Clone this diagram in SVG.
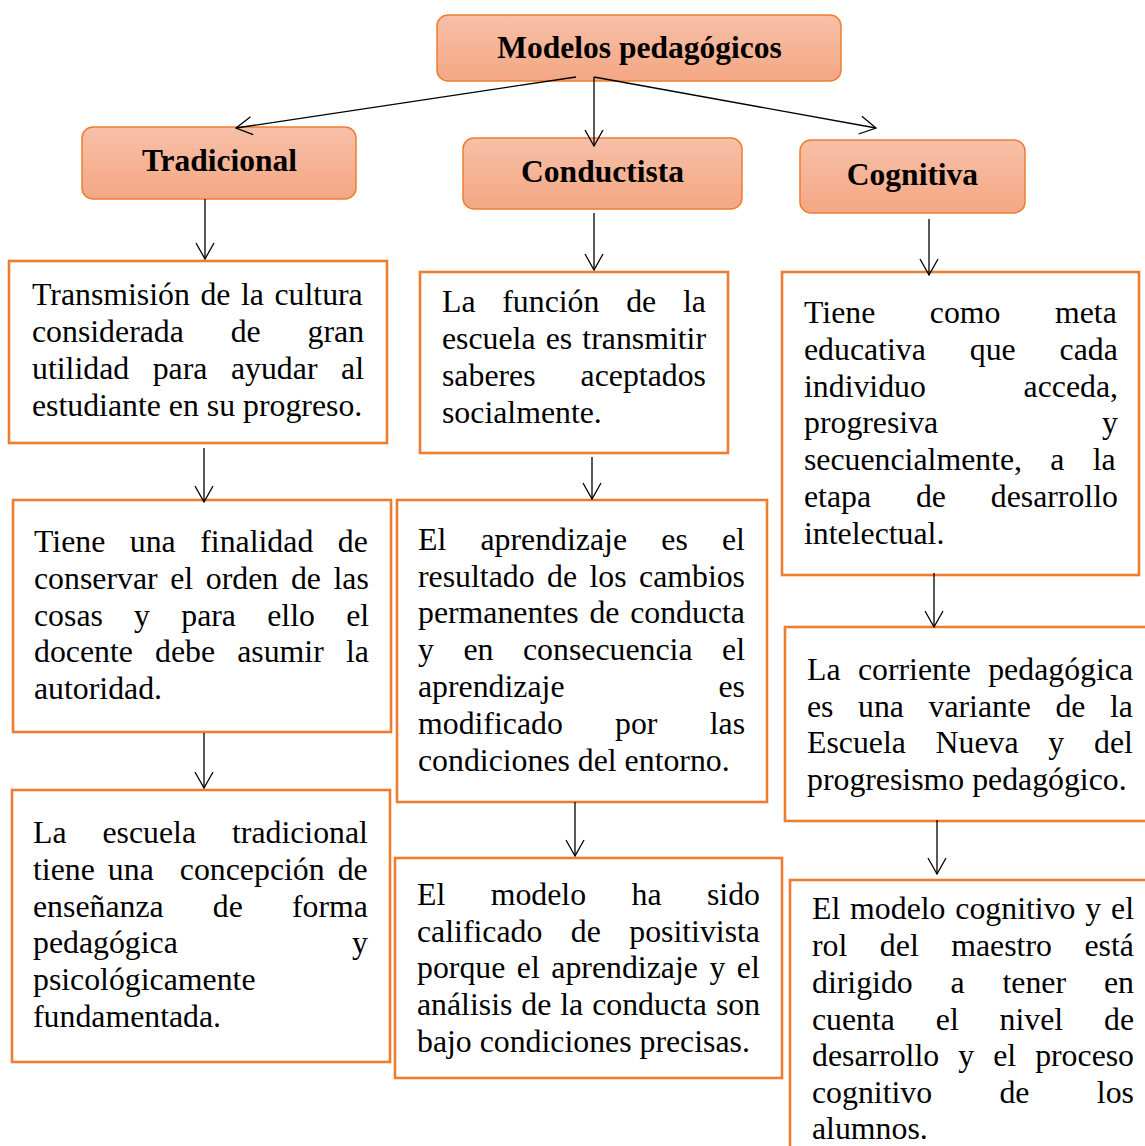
<svg xmlns="http://www.w3.org/2000/svg" width="1145" height="1146" viewBox="0 0 1145 1146">
<style>
.hdr{stroke:#ED7D31;stroke-width:1.5;fill:url(#hg)}
.box{fill:#fff;stroke:#ED7D31;stroke-width:2.6}
.ht{font-family:"Liberation Serif","Times New Roman",serif;font-weight:bold;font-size:31.5px;fill:#000;text-anchor:middle}
.t{font-family:"Liberation Serif","Times New Roman",serif;font-size:31.8px;fill:#000}
.c{stroke:#000;stroke-width:1.3;fill:none;marker-end:url(#ah)}
</style>
<defs>
<linearGradient id="hg" x1="0" y1="0" x2="0" y2="1">
<stop offset="0" stop-color="#F7C0A8"/>
<stop offset="1" stop-color="#F4A783"/>
</linearGradient>
<marker id="ah" viewBox="-17 -10 18 20" refX="0" refY="0" markerWidth="18" markerHeight="20" markerUnits="userSpaceOnUse" orient="auto">
<path d="M-16,-9 L0,0 L-16,9" fill="none" stroke="#000" stroke-width="1.3"/>
</marker>
</defs>
<rect width="1145" height="1146" fill="#fff"/>

<g id="modelos">
<rect class="hdr" x="437" y="15" width="404" height="66" rx="11"/>
<text class="ht" x="639.5" y="58">Modelos pedagógicos</text>
</g>
<g id="tradicional">
<rect class="hdr" x="82" y="127" width="274" height="72" rx="11"/>
<text class="ht" x="219.5" y="171">Tradicional</text>
</g>
<g id="conductista">
<rect class="hdr" x="463" y="138" width="279" height="71" rx="11"/>
<text class="ht" x="602.5" y="182">Conductista</text>
</g>
<g id="cognitiva">
<rect class="hdr" x="800" y="140" width="225" height="73" rx="11"/>
<text class="ht" x="912.5" y="185">Cognitiva</text>
</g>

<g id="t1">
<rect class="box" x="9" y="261" width="378" height="182"/>
<text class="t" x="32" y="305" word-spacing="2.6">Transmisión de la cultura</text>
<text class="t" x="32" y="342" word-spacing="38.9">considerada de gran</text>
<text class="t" x="32" y="379" word-spacing="15.6">utilidad para ayudar al</text>
<text class="t" x="32" y="416">estudiante en su progreso.</text>
</g>
<g id="t2">
<rect class="box" x="13" y="500" width="378" height="232"/>
<text class="t" x="34" y="552" word-spacing="16.6">Tiene una finalidad de</text>
<text class="t" x="34" y="589" word-spacing="4.7">conservar el orden de las</text>
<text class="t" x="34" y="626" word-spacing="23.3">cosas y para ello el</text>
<text class="t" x="34" y="662" word-spacing="14.2">docente debe asumir la</text>
<text class="t" x="34" y="699">autoridad.</text>
</g>
<g id="t3">
<rect class="box" x="12" y="790" width="378" height="272"/>
<text class="t" x="33" y="843" word-spacing="28">La escuela tradicional</text>
<text class="t" x="33" y="880" word-spacing="5.1">tiene una&#160; concepción de</text>
<text class="t" x="33" y="917" word-spacing="41.2">enseñanza de forma</text>
<text class="t" x="33" y="953" word-spacing="166.3">pedagógica y</text>
<text class="t" x="33" y="990">psicológicamente</text>
<text class="t" x="33" y="1027">fundamentada.</text>
</g>

<g id="c1">
<rect class="box" x="420" y="272" width="308" height="181"/>
<text class="t" x="442" y="312" word-spacing="18.8">La función de la</text>
<text class="t" x="442" y="349" word-spacing="2.2">escuela es transmitir</text>
<text class="t" x="442" y="386" word-spacing="37.1">saberes aceptados</text>
<text class="t" x="442" y="423">socialmente.</text>
</g>
<g id="c2">
<rect class="box" x="397" y="500" width="370" height="302"/>
<text class="t" x="418" y="550" word-spacing="26.3">El aprendizaje es el</text>
<text class="t" x="418" y="587" word-spacing="4.5">resultado de los cambios</text>
<text class="t" x="418" y="623" word-spacing="2.8">permanentes de conducta</text>
<text class="t" x="418" y="660" word-spacing="21.6">y en consecuencia el</text>
<text class="t" x="418" y="697" word-spacing="146">aprendizaje es</text>
<text class="t" x="418" y="734" word-spacing="44.3">modificado por las</text>
<text class="t" x="418" y="771">condiciones del entorno.</text>
</g>
<g id="c3">
<rect class="box" x="395" y="858" width="387" height="220"/>
<text class="t" x="417" y="905" word-spacing="37.5">El modelo ha sido</text>
<text class="t" x="417" y="942" word-spacing="20.5">calificado de positivista</text>
<text class="t" x="417" y="978" word-spacing="3.6">porque el aprendizaje y el</text>
<text class="t" x="417" y="1015" word-spacing="1">análisis de la conducta son</text>
<text class="t" x="417" y="1052">bajo condiciones precisas.</text>
</g>

<g id="g1">
<rect class="box" x="782" y="272" width="357" height="303"/>
<text class="t" x="804" y="323" word-spacing="46.6">Tiene como meta</text>
<text class="t" x="804" y="360" word-spacing="36">educativa que cada</text>
<text class="t" x="804" y="397" word-spacing="89.7">individuo acceda,</text>
<text class="t" x="804" y="433" word-spacing="155.9">progresiva y</text>
<text class="t" x="804" y="470" word-spacing="20.3">secuencialmente, a la</text>
<text class="t" x="804" y="507" word-spacing="36.9">etapa de desarrollo</text>
<text class="t" x="804" y="544">intelectual.</text>
</g>
<g id="g2">
<rect class="box" x="785" y="627" width="370" height="194"/>
<text class="t" x="807" y="680" word-spacing="9.4">La corriente pedagógica</text>
<text class="t" x="807" y="717" word-spacing="16.6">es una variante de la</text>
<text class="t" x="807" y="753" word-spacing="21.8">Escuela Nueva y del</text>
<text class="t" x="807" y="790">progresismo pedagógico.</text>
</g>
<g id="g3">
<rect class="box" x="790" y="880" width="370" height="280"/>
<text class="t" x="812" y="919" word-spacing="1.9">El modelo cognitivo y el</text>
<text class="t" x="812" y="956" word-spacing="24.6">rol del maestro está</text>
<text class="t" x="812" y="993" word-spacing="29.9">dirigido a tener en</text>
<text class="t" x="812" y="1030" word-spacing="32.9">cuenta el nivel de</text>
<text class="t" x="812" y="1066" word-spacing="11.1">desarrollo y el proceso</text>
<text class="t" x="812" y="1103" word-spacing="59.4">cognitivo de los</text>
<text class="t" x="812" y="1139">alumnos.</text>
</g>

<g id="connectors">
<path class="c" d="M576,77 L236,128"/>
<path class="c" d="M594,77 L594,146"/>
<path class="c" d="M594,77 L876,128"/>
<path class="c" d="M205,199 L205,259"/>
<path class="c" d="M204,448 L204,502"/>
<path class="c" d="M204,733 L204,788"/>
<path class="c" d="M594,213 L594,270"/>
<path class="c" d="M592,457 L592,499"/>
<path class="c" d="M575,802 L575,856"/>
<path class="c" d="M929,219 L929,275"/>
<path class="c" d="M934,573 L934,627"/>
<path class="c" d="M937,820 L937,874"/>
</g>
</svg>
